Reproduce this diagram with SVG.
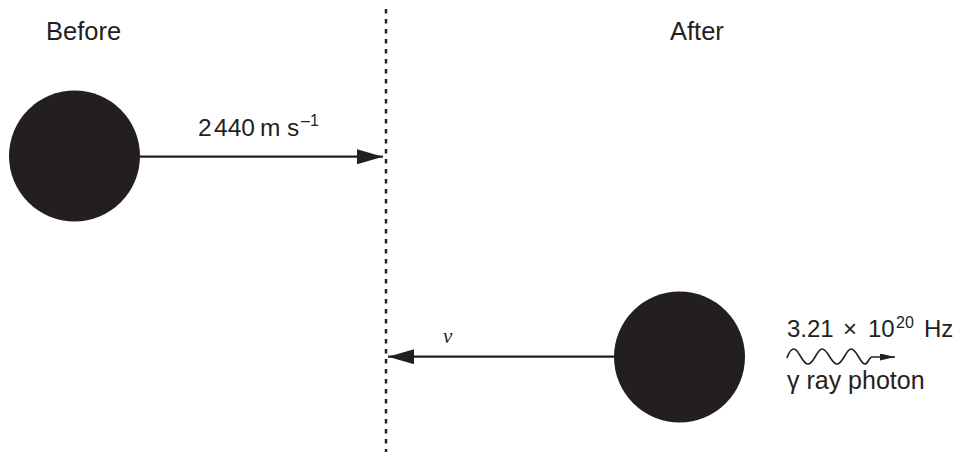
<svg xmlns="http://www.w3.org/2000/svg" width="963" height="452" viewBox="0 0 963 452">
<defs>
<style>
.t{font-family:"Liberation Sans",Arial,sans-serif;fill:#231f20;}
.ball{fill:#231f20;}
.ln{stroke:#231f20;stroke-width:2.3;fill:none;}
</style>
<marker id="ah" markerUnits="userSpaceOnUse" markerWidth="28" markerHeight="16" refX="26" refY="7.5" orient="auto">
<path d="M0,0 L26,7.5 L0,15 Z" fill="#231f20"/>
</marker>
<marker id="ahs" markerUnits="userSpaceOnUse" markerWidth="16" markerHeight="8" refX="15" refY="3.5" orient="auto">
<path d="M0,0 L15,3.5 L0,7 Z" fill="#231f20"/>
</marker>
</defs>
<rect width="963" height="452" fill="#ffffff"/>
<line x1="386" y1="9" x2="386" y2="452" stroke="#231f20" stroke-width="2.5" stroke-dasharray="4.5 5.5"/>
<text class="t" x="46" y="40" font-size="25.5">Before</text>
<text class="t" x="670" y="40" font-size="25.5">After</text>
<g id="ball-before"><circle class="ball" cx="74.5" cy="156" r="65.5"/></g>
<g id="ball-after"><circle class="ball" cx="679.5" cy="357" r="65.5"/></g>
<g id="connectors">
<line class="ln" x1="140" y1="156.7" x2="383" y2="156.7" marker-end="url(#ah)"/>
<line class="ln" x1="614" y1="356.7" x2="388" y2="356.7" marker-end="url(#ah)"/>
<path d="M787,358 C789,352 791,349 794,349 C799,349 802,364 808,364 C814,364 817,349 822,349 C828,349 831,364 837,364 C843,364 846,349 851,349 C857,349 860,364 865,364 C868,364 869,357 872,357 L895,357" stroke="#231f20" stroke-width="1.6" fill="none" marker-end="url(#ahs)"/>
</g>
<text class="t" x="198" y="136" font-size="24.5">2<tspan x="214">440</tspan><tspan x="260">m</tspan><tspan x="287">s</tspan><tspan x="301" dy="-10" font-size="16">–1</tspan></text>
<text x="443" y="343" font-family="'Liberation Serif','Times New Roman',serif" font-style="italic" font-size="21" fill="#231f20">v</text>
<text class="t" x="787" y="337" font-size="24">3.21<tspan x="843">×</tspan><tspan x="868">10</tspan><tspan x="896" dy="-9" font-size="16">20</tspan><tspan x="924" dy="9">Hz</tspan></text>
<text class="t" x="787" y="389" font-size="25">γ ray photon</text>
</svg>
